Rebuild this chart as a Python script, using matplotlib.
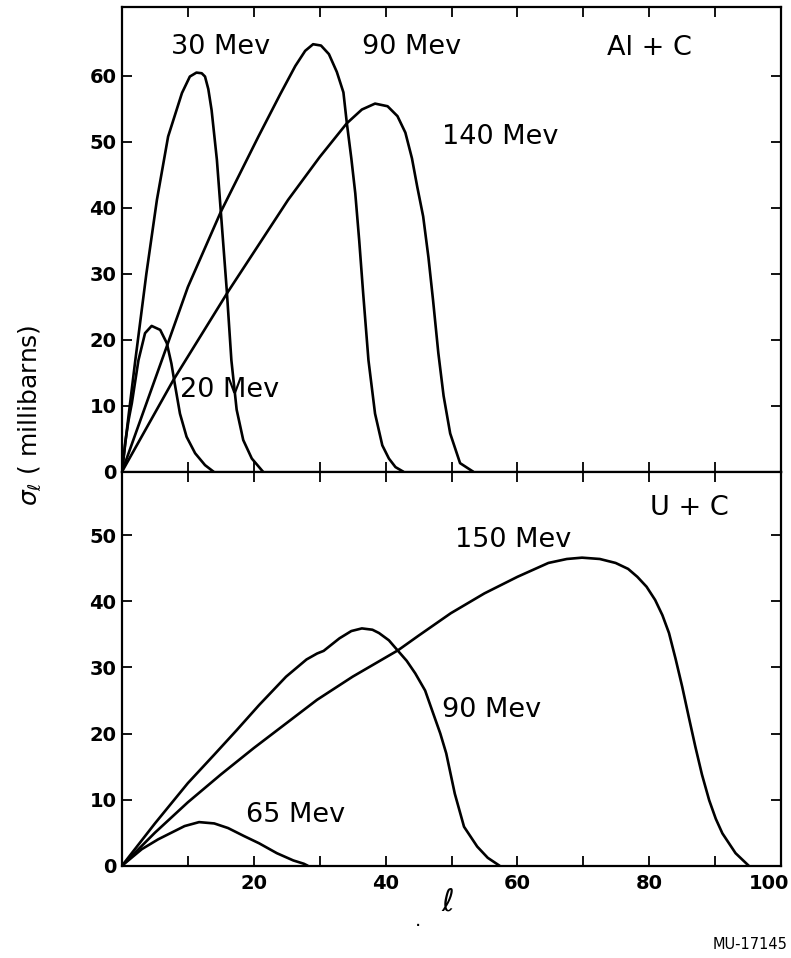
import numpy as np
import matplotlib
matplotlib.use("Agg")
import matplotlib.pyplot as plt
import matplotlib.transforms as mtransforms

# Al + C curves (l, sigma_l in millibarns)
al20_x = [0, 0.5, 1.0, 1.5, 2.5, 3.5, 4.5, 5.8, 6.8, 7.5, 8.0, 8.8, 9.8, 11.1, 12.6, 13.9]
al20_y = [0, 4.5, 7.8, 10.4, 16.9, 21.0, 22.1, 21.5, 19.5, 16.4, 13.4, 8.8, 5.3, 2.8, 1.0, 0]

al30_x = [0, 1.0, 2.0, 3.7, 5.3, 7.0, 9.1, 10.3, 11.3, 12.1, 12.6, 13.1, 13.6, 14.4, 15.0, 15.9, 16.6, 17.4, 18.4, 19.7, 21.4]
al30_y = [0, 8.5, 16.7, 30.0, 41.2, 50.8, 57.4, 59.9, 60.5, 60.4, 59.9, 58.0, 54.8, 47.3, 39.4, 27.5, 16.9, 9.4, 4.8, 2.0, 0]

al90_x = [0, 6.8, 10, 15, 20.7, 24, 26.3, 27.8, 29, 30.2, 31.4, 32.6, 33.6, 34.1, 34.8, 35.4, 36.0, 36.6, 37.4, 38.4, 39.5, 40.5, 41.5, 42.7]
al90_y = [0, 19, 28, 39.4, 50.8, 57.2, 61.5, 63.8, 64.8, 64.6, 63.3, 60.6, 57.5, 53.0, 47.5, 42.2, 35.0, 27.0, 16.9, 8.8, 4.0, 2.0, 0.7, 0]

al140_x = [0, 7.8, 16.1, 25.2, 30, 34.1, 36.4, 38.4, 40.3, 41.8, 43.0, 44.0, 44.8, 45.7, 46.5, 47.2, 48.0, 48.8, 49.8, 51.3, 53.3]
al140_y = [0, 13.9, 27.3, 41.2, 47.7, 52.8, 54.9, 55.8, 55.4, 53.9, 51.4, 47.5, 43.2, 38.7, 32.5, 26.0, 18.0, 11.5, 5.8, 1.3, 0]

# U + C curves
u65_x = [0, 3, 5.5, 7.3, 9.5, 11.7, 14, 16.1, 18.5, 20.8, 23.5, 26, 27.6, 28.2]
u65_y = [0, 2.5, 4.0, 4.9, 6.0, 6.6, 6.4, 5.7, 4.5, 3.4, 1.9, 0.8, 0.3, 0]

u90_x = [0, 5, 10, 14, 17.4, 20.8, 24.9, 28, 29.6, 30.6, 33, 34.8, 36.4, 38, 39, 40.5, 41.8, 43.2, 44.5, 46, 47.2, 48.3, 49.2, 50.5, 51.9, 53.9, 55.5, 57.3]
u90_y = [0, 6.4, 12.5, 16.8, 20.5, 24.3, 28.6, 31.2, 32.1, 32.5, 34.4, 35.5, 35.9, 35.7, 35.2, 34.1, 32.6, 31, 29.1, 26.5, 23.1, 20.0, 17, 10.9, 5.9, 2.9, 1.2, 0]

u150_x = [0, 5, 10, 15, 20, 25, 29.6, 35, 41.9, 45, 49.9, 55, 60, 64.7, 67.5, 69.8, 72.5, 74.9, 76.8, 78.2, 79.6, 80.9, 82, 83, 84, 85, 86, 87, 88, 89.1, 90.1, 91.1, 93.1, 95.1]
u150_y = [0, 5, 9.6, 13.8, 17.8, 21.6, 25.1, 28.6, 32.6, 34.8, 38.2, 41.2, 43.7, 45.8, 46.4, 46.6, 46.4, 45.8, 44.9, 43.7, 42.2, 40.2, 37.9, 35.2, 31.3, 27.1, 22.5, 18, 13.8, 9.9, 7.1, 4.9, 1.9, 0]

x_ticks = list(range(0, 101, 10))
x_ticklabels = ["", "", "20", "", "40", "", "60", "", "80", "", "100"]
top_yticks = [0, 10, 20, 30, 40, 50, 60]
bottom_yticks = [0, 10, 20, 30, 40, 50]

top_labels = [("30 Mev", 7.5, 64.4), ("90 Mev", 36.4, 64.4), ("140 Mev", 48.6, 50.8),
              ("20 Mev", 8.8, 12.4), ("Al + C", 73.6, 64.2)]
bottom_labels = [("150 Mev", 50.5, 49.3), ("90 Mev", 48.5, 23.6), ("65 Mev", 18.8, 7.7),
                 ("U + C", 80.1, 54.1)]

lw = 1.9
fig = plt.figure(figsize=(7.91, 9.58), dpi=100)
ax1 = fig.add_axes([0.1542, 0.5076, 0.8332, 0.4848])
ax2 = fig.add_axes([0.1542, 0.0963, 0.8332, 0.4113])

for xs, ys in [(al20_x, al20_y), (al30_x, al30_y), (al90_x, al90_y), (al140_x, al140_y)]:
    ax1.plot(xs, ys, color="black", lw=lw, solid_joinstyle="round", solid_capstyle="round")
for xs, ys in [(u65_x, u65_y), (u90_x, u90_y), (u150_x, u150_y)]:
    ax2.plot(xs, ys, color="black", lw=lw, solid_joinstyle="round", solid_capstyle="round")

for txt, x, y in top_labels:
    ax1.text(x, y, txt, fontsize=19.5, va="center", ha="left")
for txt, x, y in bottom_labels:
    ax2.text(x, y, txt, fontsize=19.5, va="center", ha="left")

ax1.set_ylim(0, 70.4)
ax2.set_ylim(0, 59.6)
for ax, yt in [(ax1, top_yticks), (ax2, bottom_yticks)]:
    ax.set_xlim(0, 100)
    ax.set_xticks(x_ticks)
    ax.set_yticks(yt)
    ax.tick_params(direction="in", length=7, width=1.3, top=True, right=True,
                   labelsize=14, pad=4)
    ax.tick_params(axis="x", pad=6)
    for s in ax.spines.values():
        s.set_linewidth(1.6)
    for lab in ax.get_yticklabels():
        lab.set_fontweight("bold")

ax1.set_xticklabels([])
ax2.set_xticklabels(x_ticklabels, fontweight="bold")
# the last label sits a little to the left of its tick in the original
shift = mtransforms.ScaledTranslation(-12 / 100, 0, fig.dpi_scale_trans)
last = ax2.get_xticklabels()[-1]
last.set_transform(last.get_transform() + shift)

fig.text(0.038, 0.567, r"$\sigma_\ell$ ( millibarns)", rotation=90, fontsize=18,
         ha="center", va="center")
fig.text(0.566, 0.058, r"$\ell$", fontsize=22, ha="center", va="center")
fig.text(0.528, 0.039, ".", fontsize=14, ha="center", va="center")
fig.text(0.995, 0.0146, "MU-17145", fontsize=10.5, ha="right", va="center")

fig.savefig("out.png", dpi=100)
